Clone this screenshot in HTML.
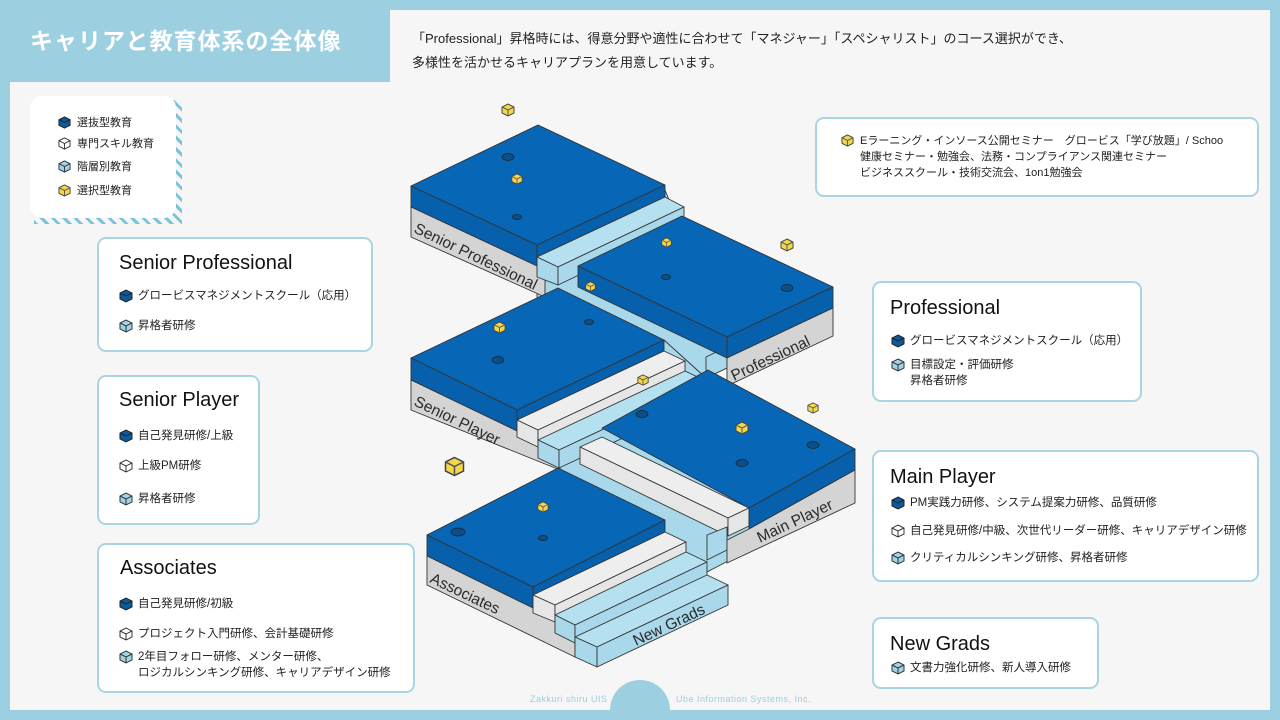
<!DOCTYPE html>
<html><head><meta charset="utf-8">
<style>
*{margin:0;padding:0;box-sizing:border-box}
html{width:1280px;height:720px;overflow:hidden}
body{width:1280px;height:720px;overflow:hidden;background:#9ccfe0;font-family:"Liberation Sans","Noto Sans CJK JP",sans-serif;position:relative;color:#222}
.abs{position:absolute}
.box{position:absolute;background:#fff;border:2px solid #a9d5e3;border-radius:9px}
.t{position:absolute;font-size:20px;color:#111;white-space:nowrap}
.i{position:absolute;font-size:11.5px;color:#222;white-space:nowrap;line-height:16px}
.i svg{position:absolute;left:-19px;top:1px}
</style></head><body>
<svg width="0" height="0" style="position:absolute">
<defs>
<symbol id="cb" viewBox="0 0 14 14"><polygon points="7,1 13,4 13,10 7,13 1,10 1,4" fill="#0a5a9c" stroke="#222" stroke-width="1"/><polyline points="1,4 7,7 13,4 M7,7 7,13" fill="none" stroke="#222" stroke-width="1"/></symbol>
<symbol id="cw" viewBox="0 0 14 14"><polygon points="7,1 13,4 13,10 7,13 1,10 1,4" fill="#fff" stroke="#333" stroke-width="1"/><polyline points="1,4 7,7 13,4" fill="none" stroke="#333"/><line x1="7" y1="7" x2="7" y2="13" stroke="#333"/></symbol>
<symbol id="cl" viewBox="0 0 14 14"><polygon points="7,1 13,4 13,10 7,13 1,10 1,4" fill="#9fd3e6" stroke="#333" stroke-width="1"/><polyline points="1,4 7,7 13,4" fill="none" stroke="#333"/><line x1="7" y1="7" x2="7" y2="13" stroke="#333"/></symbol>
<symbol id="cy" viewBox="0 0 14 14"><polygon points="7,1 13,4 13,10 7,13 1,10 1,4" fill="#f3d64a" stroke="#444" stroke-width="1"/><polyline points="1,4 7,7 13,4" fill="none" stroke="#555"/><line x1="7" y1="7" x2="7" y2="13" stroke="#555"/></symbol>
</defs></svg>

<!-- panel -->
<div class="abs" style="left:10px;top:82px;width:1260px;height:628px;background:#f6f6f6"></div>
<div class="abs" style="left:390px;top:10px;width:880px;height:80px;background:#f6f6f6"></div>
<div class="abs" style="left:0;top:0;width:390px;height:82px;background:#9ccfe0;border-bottom-right-radius:40px"></div>
<div class="abs" style="left:30px;top:22px;font-size:23px;font-weight:bold;color:#fff;letter-spacing:1px">キャリアと教育体系の全体像</div>
<div class="abs" style="left:412px;top:27px;font-size:13px;line-height:24px;color:#222;white-space:nowrap">「Professional」昇格時には、得意分野や適性に合わせて「マネジャー」「スペシャリスト」のコース選択ができ、<br>多様性を活かせるキャリアプランを用意しています。</div>

<!-- footer -->
<div class="abs" style="left:0;top:710px;width:1280px;height:10px;background:#9ccfe0"></div>
<div class="abs" style="left:610px;top:680px;width:60px;height:60px;border-radius:30px;background:#9ccfe0"></div>
<div class="abs" style="left:530px;top:694px;font-size:9px;color:#9ccfe0;letter-spacing:.5px">Zakkuri shiru UIS</div>
<div class="abs" style="left:676px;top:694px;font-size:9px;color:#9ccfe0;letter-spacing:.5px">Ube Information Systems, Inc.</div>

<!-- legend -->
<div class="abs" style="left:34px;top:100px;width:148px;height:124px;background:repeating-linear-gradient(45deg,#7cc3d9 0 3px,transparent 3px 8px)"></div>
<div class="abs" style="left:30px;top:96px;width:146px;height:122px;background:#fff;border-radius:12px"></div>
<div class="i" style="left:77px;top:115px;font-size:11px"><svg width="13" height="13"><use href="#cb"/></svg>選抜型教育</div>
<div class="i" style="left:77px;top:136px;font-size:11px"><svg width="13" height="13"><use href="#cw"/></svg>専門スキル教育</div>
<div class="i" style="left:77px;top:159px;font-size:11px"><svg width="13" height="13"><use href="#cl"/></svg>階層別教育</div>
<div class="i" style="left:77px;top:183px;font-size:11px"><svg width="13" height="13"><use href="#cy"/></svg>選択型教育</div>

<!-- iso diagram -->
<svg class="abs" style="left:0;top:0" width="1280" height="720">
<g stroke="#333" stroke-width="0.9" stroke-linejoin="round">
<polygon points="537,250 665,190 727,340 727,368 706,378 537,297" fill="#a8d8ea"/>
<polygon points="411,186 538,125 665,185 537,245" fill="#0766b5"/>
<polygon points="411,186 537,245 537,266 411,207" fill="#0760ab"/>
<polygon points="411,207 537,266 545,270 545,297 411,237" fill="#d4d4d4"/>
<polygon points="537,245 665,185 665,206 537,266" fill="#0760ab"/>
<polygon points="537,257 665,197 684,207 558,267" fill="#b5e0ef"/>
<polygon points="537,257 558,267 558,285 537,277" fill="#a8d8ea"/>
<polygon points="558,267 684,207 684,225 558,285" fill="#a8d8ea"/>
<polygon points="706,357 727,347 727,368 706,378" fill="#a8d8ea"/>
<polygon points="578,266 682,216 833,287 727,337" fill="#0766b5"/>
<polygon points="578,266 727,337 727,358 578,287" fill="#0760ab"/>
<polygon points="727,337 833,287 833,308 727,358" fill="#0760ab"/>
<polygon points="727,358 833,308 833,336 727,386 727,370" fill="#d4d4d4"/>
<polygon points="517,410 664,340 706,378 749,508 749,550 707,572 560,470 517,445" fill="#a8d8ea"/>
<polygon points="411,358 558,288 664,340 517,410" fill="#0766b5"/>
<polygon points="411,358 517,410 517,431 411,380" fill="#0760ab"/>
<polygon points="411,380 517,431 560,452 560,470 411,410" fill="#d4d4d4"/>
<polygon points="517,410 664,340 664,352 517,420" fill="#0760ab"/>
<polygon points="517,420 664,351 685,361 538,430" fill="#eeeeee"/>
<polygon points="517,420 538,430 538,447 517,437" fill="#e6e6e6"/>
<polygon points="538,430 685,361 685,378 538,447" fill="#e6e6e6"/>
<polygon points="538,440 685,371 706,381 559,450" fill="#b5e0ef"/>
<polygon points="538,440 559,450 559,468 538,458" fill="#a8d8ea"/>
<polygon points="559,450 706,381 706,399 559,468" fill="#a8d8ea"/>
<polygon points="580,447 602,437 749,508 728,518" fill="#eeeeee"/>
<polygon points="580,447 728,518 728,536 580,464" fill="#e6e6e6"/>
<polygon points="728,518 749,508 749,526 728,536" fill="#e6e6e6"/>
<polygon points="707,535 727,527 727,550 707,560" fill="#a8d8ea"/>
<polygon points="602,428 708,370 855,449 749,508" fill="#0766b5"/>
<polygon points="749,508 855,449 855,470 749,529" fill="#0760ab"/>
<polygon points="749,529 855,470 855,503 727,563 727,540" fill="#d4d4d4"/>
<polygon points="427,535 558,468 665,520 533,587" fill="#0766b5"/>
<polygon points="427,535 533,587 533,608 427,556" fill="#0760ab"/>
<polygon points="427,556 533,608 575,628 575,657 427,585" fill="#d4d4d4"/>
<polygon points="533,587 665,520 665,541 533,608" fill="#0760ab"/>
<polygon points="533,595 665,532 686,542 555,605" fill="#eeeeee"/>
<polygon points="533,595 555,605 555,622 533,613" fill="#e6e6e6"/>
<polygon points="555,605 686,542 686,558 555,622" fill="#e6e6e6"/>
<polygon points="555,615 686,552 707,562 575,625" fill="#b5e0ef"/>
<polygon points="555,615 575,625 575,643 555,633" fill="#a8d8ea"/>
<polygon points="575,625 707,562 707,580 575,643" fill="#a8d8ea"/>
<polygon points="575,637 707,575 728,585 597,647" fill="#b5e0ef"/>
<polygon points="575,637 597,647 597,667 575,657" fill="#a8d8ea"/>
<polygon points="597,647 728,585 728,605 597,667" fill="#a8d8ea"/>
</g>
<g fill="#0a4f8a" stroke="#222" stroke-width="0.7">
<ellipse cx="508" cy="157" rx="6" ry="3.5"/><ellipse cx="517" cy="217" rx="4.5" ry="2.5"/>
<ellipse cx="666" cy="277" rx="4.5" ry="2.5"/><ellipse cx="787" cy="288" rx="6" ry="3.5"/>
<ellipse cx="589" cy="322" rx="4.5" ry="2.5"/><ellipse cx="498" cy="360" rx="6" ry="3.5"/>
<ellipse cx="642" cy="414" rx="6" ry="3.5"/><ellipse cx="742" cy="463" rx="6" ry="3.5"/>
<ellipse cx="813" cy="445" rx="6" ry="3.5"/><ellipse cx="458" cy="532" rx="7" ry="4"/>
<ellipse cx="543" cy="538" rx="4.5" ry="2.5"/>
</g>
<use href="#cy" x="501" y="103" width="14" height="14"/>
<use href="#cy" x="511" y="173" width="12" height="12"/>
<use href="#cy" x="661" y="237" width="11" height="11"/>
<use href="#cy" x="780" y="238" width="14" height="14"/>
<use href="#cy" x="585" y="281" width="11" height="11"/>
<use href="#cy" x="493" y="321" width="13" height="13"/>
<use href="#cy" x="637" y="374" width="12" height="12"/>
<use href="#cy" x="807" y="402" width="12" height="12"/>
<use href="#cy" x="735" y="421" width="14" height="14"/>
<use href="#cy" x="444" y="456" width="21" height="21"/>
<use href="#cy" x="537" y="501" width="12" height="12"/>
<g font-family="Liberation Sans, sans-serif" fill="#2a2a2a" font-size="15.5">
<text transform="translate(413,232) rotate(25.6)">Senior Professional</text>
<text transform="translate(734,381) rotate(-25.2)">Professional</text>
<text transform="translate(413,405) rotate(25.6)">Senior Player</text>
<text transform="translate(760,543) rotate(-25.2)">Main Player</text>
<text transform="translate(429,582) rotate(25.6)">Associates</text>
<text transform="translate(636,646) rotate(-25.2)">New Grads</text>
</g>
</svg>

<!-- boxes -->
<div class="box" style="left:815px;top:117px;width:444px;height:80px"></div>
<div class="i" style="left:860px;top:133px;font-size:11px"><svg width="13" height="13"><use href="#cy"/></svg>Eラーニング・インソース公開セミナー　グロービス「学び放題」/ Schoo</div>
<div class="i" style="left:860px;top:149px;font-size:11px">健康セミナー・勉強会、法務・コンプライアンス関連セミナー</div>
<div class="i" style="left:860px;top:165px;font-size:11px">ビジネススクール・技術交流会、1on1勉強会</div>

<div class="box" style="left:97px;top:237px;width:276px;height:115px"></div>
<div class="t" style="left:119px;top:252px">Senior Professional</div>
<div class="i" style="left:138px;top:288px"><svg width="14" height="14"><use href="#cb"/></svg>グロービスマネジメントスクール（応用）</div>
<div class="i" style="left:138px;top:318px"><svg width="14" height="14"><use href="#cl"/></svg>昇格者研修</div>

<div class="box" style="left:97px;top:375px;width:163px;height:150px"></div>
<div class="t" style="left:119px;top:389px">Senior Player</div>
<div class="i" style="left:138px;top:428px"><svg width="14" height="14"><use href="#cb"/></svg>自己発見研修/上級</div>
<div class="i" style="left:138px;top:458px"><svg width="14" height="14"><use href="#cw"/></svg>上級PM研修</div>
<div class="i" style="left:138px;top:491px"><svg width="14" height="14"><use href="#cl"/></svg>昇格者研修</div>

<div class="box" style="left:97px;top:543px;width:318px;height:150px"></div>
<div class="t" style="left:120px;top:557px">Associates</div>
<div class="i" style="left:138px;top:596px"><svg width="14" height="14"><use href="#cb"/></svg>自己発見研修/初級</div>
<div class="i" style="left:138px;top:626px"><svg width="14" height="14"><use href="#cw"/></svg>プロジェクト入門研修、会計基礎研修</div>
<div class="i" style="left:138px;top:649px"><svg width="14" height="14"><use href="#cl"/></svg>2年目フォロー研修、メンター研修、</div>
<div class="i" style="left:138px;top:665px">ロジカルシンキング研修、キャリアデザイン研修</div>

<div class="box" style="left:872px;top:281px;width:270px;height:121px"></div>
<div class="t" style="left:890px;top:297px">Professional</div>
<div class="i" style="left:910px;top:333px"><svg width="14" height="14"><use href="#cb"/></svg>グロービスマネジメントスクール（応用）</div>
<div class="i" style="left:910px;top:357px"><svg width="14" height="14"><use href="#cl"/></svg>目標設定・評価研修</div>
<div class="i" style="left:910px;top:373px">昇格者研修</div>

<div class="box" style="left:872px;top:450px;width:387px;height:132px"></div>
<div class="t" style="left:890px;top:466px">Main Player</div>
<div class="i" style="left:910px;top:495px"><svg width="14" height="14"><use href="#cb"/></svg>PM実践力研修、システム提案力研修、品質研修</div>
<div class="i" style="left:910px;top:523px"><svg width="14" height="14"><use href="#cw"/></svg>自己発見研修/中級、次世代リーダー研修、キャリアデザイン研修</div>
<div class="i" style="left:910px;top:550px"><svg width="14" height="14"><use href="#cl"/></svg>クリティカルシンキング研修、昇格者研修</div>

<div class="box" style="left:872px;top:617px;width:227px;height:72px"></div>
<div class="t" style="left:890px;top:633px">New Grads</div>
<div class="i" style="left:910px;top:660px"><svg width="14" height="14"><use href="#cl"/></svg>文書力強化研修、新人導入研修</div>
</body></html>
